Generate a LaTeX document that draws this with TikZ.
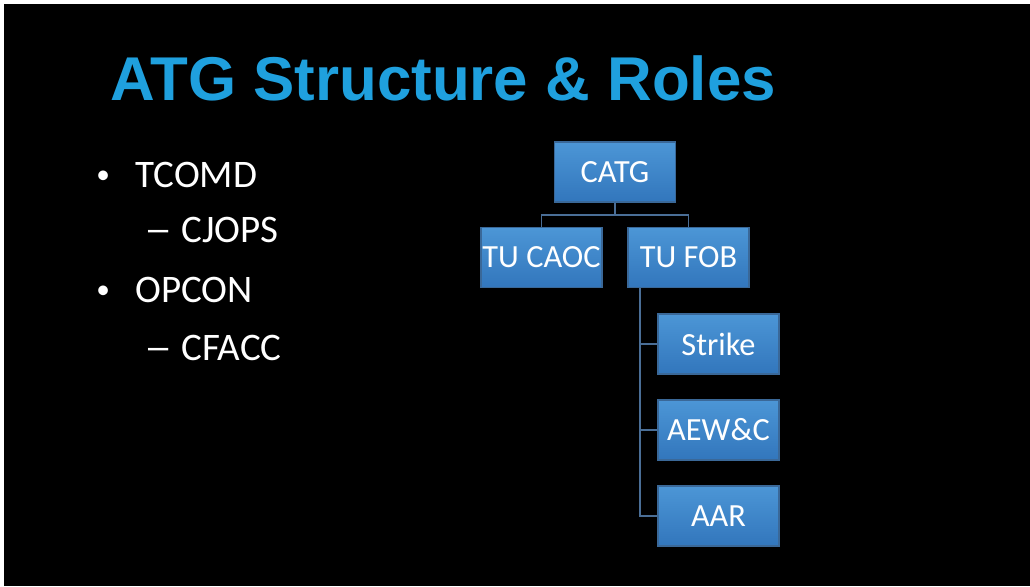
\documentclass[tikz,border=0pt]{standalone}
\usepackage{fontspec}
\setmainfont{Carlito}
\newfontfamily\titlefont{Liberation Sans}
\usetikzlibrary{positioning}

\definecolor{titleblue}{RGB}{31,160,222}
\definecolor{boxtop}{RGB}{76,150,214}
\definecolor{boxbot}{RGB}{50,118,188}
\definecolor{boxline}{RGB}{58,104,152}
\definecolor{linkblue}{RGB}{74,110,150}

\tikzset{
  orgbox/.style={rectangle, draw=boxline, line width=0.6pt, top color=boxtop, bottom color=boxbot,
    minimum width=2.42cm, minimum height=1.2cm, inner sep=0pt, text=white,
    font=\fontsize{18.4pt}{20pt}\selectfont},
  bullettext/.style={anchor=base west, text=white, inner sep=0pt, font=\fontsize{22.2pt}{26pt}\selectfont},
  link/.style={draw=linkblue, line width=0.9pt}
}

\begin{document}
\begin{tikzpicture}[x=0.02cm, y=-0.02cm]

    \useasboundingbox[fill=white] (0, 0) rectangle (1030, 586);
    \fill[black] (4, 4) rectangle (1030, 586);

    \node[anchor=base west, inner sep=0pt, text=titleblue, font=\titlefont\bfseries\fontsize{35.2pt}{40pt}\selectfont] (title) at (110, 100) {ATG Structure \& Roles};

    \node[bullettext] (b1) at (96, 183) {\scalebox{0.7}{\textbullet}};
    \node[bullettext] (tcomd) at (135, 187) {TCOMD};
    \node[bullettext] (d1) at (144, 242) {\scalebox{1.45}[1]{--}};
    \node[bullettext] (cjops) at (181, 242) {CJOPS};
    \node[bullettext] (b2) at (96, 298) {\scalebox{0.7}{\textbullet}};
    \node[bullettext] (opcon) at (135, 302) {OPCON};
    \node[bullettext] (d2) at (144, 360) {\scalebox{1.45}[1]{--}};
    \node[bullettext] (cfacc) at (181, 360) {CFACC};

    \node[orgbox] (catg) at (615, 172) {CATG};
    \node[orgbox] (caoc) at (541.5, 257.5) {TU CAOC};
    \node[orgbox] (fob) at (688.5, 257.5) {TU FOB};

    \foreach \n/\y/\t in {strike/344/Strike, aewc/430/AEW\&C, aar/516/AAR}
        \node[orgbox] (\n) at (718.5, \y) {\t};

    \coordinate (split) at (615, 215);
    \coordinate (spine) at (640, 288);

    \draw[link] (catg.south) -- (split);
    \draw[link] (split) -| (caoc.north);
    \draw[link] (split) -| (fob.north);

    \foreach \n in {strike, aewc, aar}
        \draw[link] (spine) |- (\n.west);

\end{tikzpicture}
\end{document}
